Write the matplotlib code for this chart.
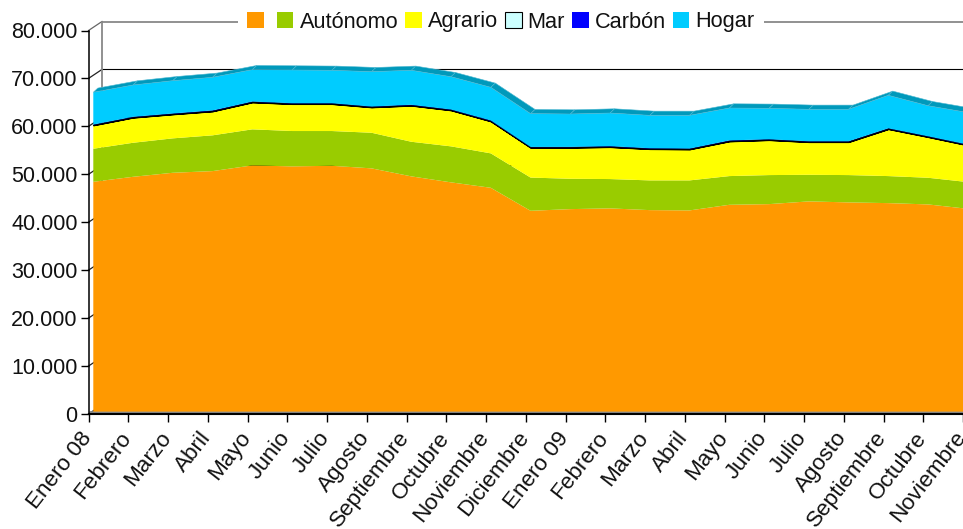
import matplotlib
matplotlib.use("Agg")
import matplotlib.pyplot as plt
import numpy as np
from matplotlib.patches import Polygon, Patch
from matplotlib.transforms import Affine2D, IdentityTransform

plt.rcParams['font.family'] = ['Liberation Sans', 'DejaVu Sans']

meses = ["Enero 08", "Febrero", "Marzo", "Abril", "Mayo", "Junio", "Julio", "Agosto",
         "Septiembre", "Octubre", "Noviembre", "Diciembre", "Enero 09", "Febrero", "Marzo",
         "Abril", "Mayo", "Junio", "Julio", "Agosto", "Septiembre", "Octubre", "Noviembre"]

base = [47940, 48980, 49820, 50170, 51360, 51150, 51280, 50740, 49070, 47820, 46690, 41890,
        42240, 42390, 42030, 41970, 43140, 43280, 43850, 43640, 43490, 43220, 42300]
autonomo = [6890, 7100, 7180, 7460, 7520, 7380, 7250, 7430, 7220, 7510, 7180, 6930,
            6330, 6120, 6200, 6260, 5990, 6060, 5550, 5700, 5640, 5560, 5580]
agrario = [4950, 5310, 5080, 5070, 5700, 5700, 5700, 5370, 7600, 7580, 6740, 6300,
           6550, 6740, 6600, 6540, 7310, 7370, 6890, 6950, 9870, 8560, 7720]
mar = [40, 40, 40, 40, 40, 40, 40, 40, 40, 40, 40, 40,
       40, 40, 40, 40, 40, 40, 40, 40, 40, 40, 40]
carbon = [60, 70, 70, 90, 60, 60, 60, 60, 80, 70, 90, 50,
          60, 80, 70, 60, 90, 60, 60, 60, 60, 60, 60]
hogar = [6730, 6630, 6840, 6910, 6650, 6930, 6870, 7270, 7190, 6840, 6910, 6950,
         6860, 6920, 6860, 6930, 6760, 6460, 6670, 6670, 6880, 6370, 6690]
yticks = [0, 10000, 20000, 30000, 40000, 50000, 60000, 70000, 80000]
ylabels = ["0", "10.000", "20.000", "30.000", "40.000", "50.000", "60.000", "70.000", "80.000"]

W, H = 963, 529
fig = plt.figure(figsize=(W / 100, H / 100), dpi=100, facecolor="white")
ax = fig.add_axes([88.5 / W, (H - 414) / H, (W - 88.5) / W, 383.5 / H])
x = np.arange(len(meses))
ax.set_xlim(0, 22)
ax.set_ylim(0, 80000)

# 3D depth offsets, in pixels
front = ax.transData + Affine2D().translate(4.8, 2.4)
back_tr = ax.transData + Affine2D().translate(13.5, 9)

# back wall
for v in yticks:
    col = "#000000" if v < 80000 else "#888888"
    ax.plot([0, 22], [v, v], transform=back_tr, color=col, lw=0.8 if v < 80000 else 1.3,
            zorder=1, clip_on=False, solid_capstyle="butt")
    px0 = ax.transData.transform((0, v))
    pxb = back_tr.transform((0, v))
    ax.plot([px0[0], pxb[0]], [px0[1], pxb[1]], transform=IdentityTransform(),
            color="#222222" if v < 80000 else "#666666", lw=0.9, zorder=1, clip_on=False)
ax.plot([0, 0], [0, 80000], transform=back_tr, color="#888888", lw=1.3, zorder=1, clip_on=False)
# floor
ax.plot([0, 22], [0, 0], transform=ax.transData + Affine2D().translate(0, 1.6),
        color="#888888", lw=2, zorder=1.5, clip_on=False, solid_capstyle="butt")

series = [base, autonomo, agrario, mar, carbon, hogar]
colors = ["#ff9900", "#99cc00", "#ffff00", "#ccffff", "#0000ff", "#00ccff"]
polys = ax.stackplot(x, *series, colors=colors, transform=front, zorder=2, lw=0)
polys[3].set_edgecolor("#000000")
polys[3].set_linewidth(1.2)
ax.set_xlim(0, 22)
ax.set_ylim(0, 80000)

# top band of the 3D area
total = np.sum(series, axis=0)
pts = front.transform(np.column_stack([x, total]))
for i in range(len(x) - 1):
    a, b = pts[i], pts[i + 1]
    d = np.array([4.5, 4.2])
    ax.add_patch(Polygon([a, b, b + d, a + d], closed=True, transform=IdentityTransform(),
                         facecolor="#0099bb", edgecolor="#4db8d2", lw=0.4, zorder=2.5, clip_on=False))

# axes
for s in ("top", "right"):
    ax.spines[s].set_visible(False)
ax.patch.set_alpha(0)
ax.spines["left"].set_linewidth(1.1)
ax.spines["bottom"].set_linewidth(1.5)
ax.spines["left"].set_zorder(5)
ax.spines["bottom"].set_zorder(5)
ax.set_yticks(yticks)
ax.set_yticklabels(ylabels, fontsize=15.5, color="#111111")
ax.set_xticks(x)
ax.set_xticklabels(meses, fontsize=16.2, color="#111111", rotation=52, ha="right",
                   rotation_mode="anchor")
ax.tick_params(axis="y", length=5.8, width=1, pad=2)
ax.tick_params(axis="x", length=5.8, width=1, pad=4)
for lab in ax.get_xticklabels():
    lab.set_transform(lab.get_transform() + Affine2D().translate(-9, 0))

# legend
handles = [Patch(facecolor=c, edgecolor="none") for c in colors]
handles[3] = Patch(facecolor=colors[3], edgecolor="#000000", lw=0.8)
labels = ["", "Autónomo", "Agrario", "Mar", "Carbón", "Hogar"]
leg = fig.legend(handles, labels, ncol=6, fontsize=15.7, loc="center",
                 bbox_to_anchor=(501 / W, 1 - 22 / H), frameon=True, facecolor="white",
                 edgecolor="none", framealpha=1, fancybox=False,
                 handlelength=0.75, handleheight=0.75, handletextpad=0.28,
                 columnspacing=0.33, borderpad=0.45, borderaxespad=0)
leg.set_zorder(10)
for t in leg.get_texts():
    t.set_color("#111111")

fig.savefig("out.png", dpi=100)
